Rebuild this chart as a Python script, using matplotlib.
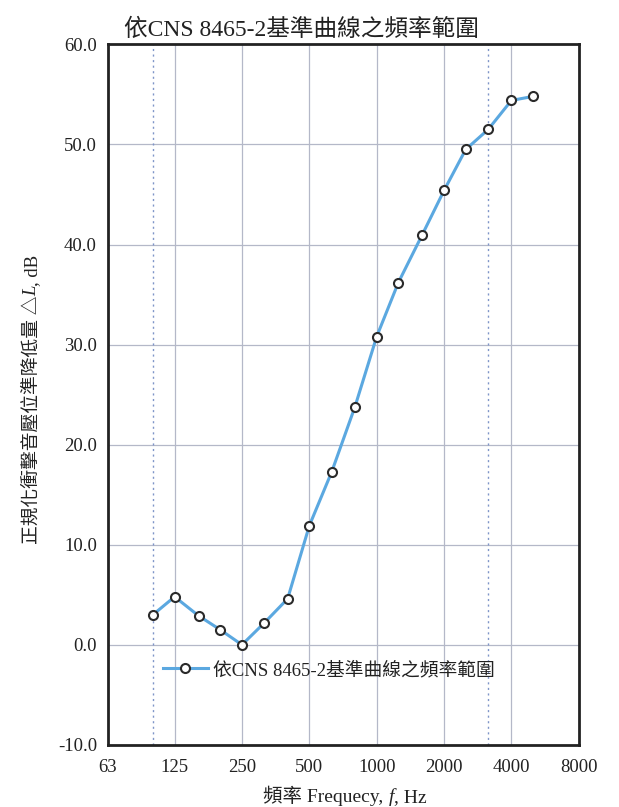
import matplotlib
matplotlib.use("Agg")
import matplotlib.pyplot as plt
from matplotlib.ticker import FixedLocator, NullLocator

plt.rcParams['font.family'] = ['Liberation Serif', 'Noto Sans CJK TC', 'DejaVu Sans']

# 1/3 octave band centre frequencies and ΔL values
freqs = [100, 125, 160, 200, 250, 315, 400, 500, 630, 800,
         1000, 1250, 1600, 2000, 2500, 3150, 4000, 5000]
delta_L = [3.0, 4.8, 2.9, 1.5, 0.0, 2.2, 4.6, 11.9, 17.3, 23.8,
           30.8, 36.2, 41.0, 45.4, 49.5, 51.5, 54.4, 54.8]

x_ticks = [63, 125, 250, 500, 1000, 2000, 4000, 8000]
x_tick_labels = ["63", "125", "250", "500", "1000", "2000", "4000", "8000"]
y_ticks = [-10, 0, 10, 20, 30, 40, 50, 60]
range_lines = [100, 3150]

title = "依CNS 8465-2基準曲線之頻率範圍"
# label pieces: (text, italic?)
xlabel_parts = [("頻率 Frequecy, ", False), ("f", True), (", Hz", False)]
ylabel_parts = [("正規化衝擊音壓位準降低量 △", False), ("L", True), (", dB", False)]

ink = "#222222"

fig = plt.figure(figsize=(6.19, 8.07), dpi=100)
ax = fig.add_axes([0.1745, 0.077, 0.7605, 0.868])

ax.set_xscale("log")
ax.set_xlim(63, 8000)
ax.set_ylim(-10, 60)

# grid
for f in x_ticks[1:-1]:
    ax.axvline(f, color="#b4b8c8", lw=0.9, zorder=1)
for v in y_ticks[1:-1]:
    ax.axhline(v, color="#b4b8c8", lw=0.9, zorder=1)
for f in range_lines:
    ax.axvline(f, color="#7f95c8", lw=1.0, ls=(0, (1.5, 2.5)), zorder=1)

ax.plot(freqs, delta_L, color="#5ba8e0", lw=2.2, marker="o", ms=6.5,
        mfc="white", mec="#2a2a2a", mew=1.5, zorder=3, label=title)

ax.xaxis.set_major_locator(FixedLocator(x_ticks))
ax.xaxis.set_minor_locator(NullLocator())
ax.set_xticklabels(x_tick_labels)
ax.set_yticks(y_ticks)
ax.set_yticklabels([f"{v:.1f}" for v in y_ticks])
ax.tick_params(axis="both", length=0, labelsize=13.5, colors=ink)
ax.tick_params(axis="x", pad=10)
ax.tick_params(axis="y", pad=8)

for s in ax.spines.values():
    s.set_linewidth(2.0)
    s.set_color(ink)

ax.set_title(title, fontsize=17, pad=6, color=ink, x=0.41)

# x label, built from pieces so f can be italic
xl_texts = []
for txt, it in xlabel_parts:
    if not xl_texts:
        t = fig.text(0.5, 0.001, txt, fontsize=14, color=ink,
                     style="italic" if it else "normal", ha="left", va="bottom")
    else:
        t = ax.annotate(txt, xy=(1, 0), xycoords=xl_texts[-1], fontsize=14,
                        color=ink, style="italic" if it else "normal",
                        ha="left", va="bottom", annotation_clip=False)
    xl_texts.append(t)

# y label, rotated pieces stacked bottom to top
yl_texts = []
for txt, it in ylabel_parts:
    if not yl_texts:
        t = fig.text(0.052, 0.30, txt, fontsize=13.5, color=ink, rotation=90,
                     style="italic" if it else "normal", ha="center", va="bottom")
    else:
        t = ax.annotate(txt, xy=(0.5, 1), xycoords=yl_texts[-1], fontsize=13.5,
                        color=ink, rotation=90, style="italic" if it else "normal",
                        ha="center", va="bottom", annotation_clip=False)
    yl_texts.append(t)

# centre the labels
fig.canvas.draw()
r = fig.canvas.get_renderer()
x0 = xl_texts[0].get_window_extent(r).x0
x1 = xl_texts[-1].get_window_extent(r).x1
w = fig.bbox.width
xl_texts[0].set_x((0.557 * w - (x1 - x0) / 2) / w)
y0 = yl_texts[0].get_window_extent(r).y0
y1 = yl_texts[-1].get_window_extent(r).y1
h = fig.bbox.height
yl_texts[0].set_y((0.505 * h - (y1 - y0) / 2) / h)

leg = ax.legend(loc="lower left", bbox_to_anchor=(0.08, 0.07), frameon=False,
                fontsize=13.5, handlelength=2.4, handletextpad=0.3)
for t in leg.get_texts():
    t.set_color(ink)

fig.savefig("out.png", dpi=100, facecolor="white")
